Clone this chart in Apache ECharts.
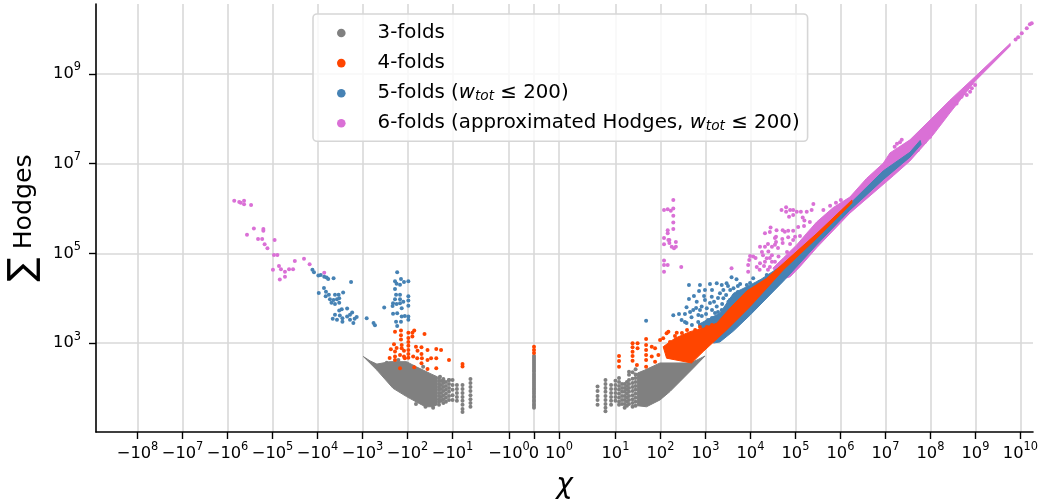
<!DOCTYPE html>
<html>
<head>
<meta charset="utf-8">
<style>html,body{margin:0;padding:0;background:#fff}#chart{width:1043px;height:501px}</style>
<script src="https://cdn.jsdelivr.net/npm/echarts@6/dist/echarts.min.js"></script>
</head>
<body>
<div id="chart"></div>
<script>
// all values are [chi, sum of Hodges]
// *Band arrays are the outlines of the regions where points overlap solid
const fold3Band1 = [[-960,500],[-680,400],[-480,340],[-245,385],[-105,385],[-66,300],[-45,250],[-30,205],[-22,178],[-22,42],[-27,38],[-40,38],[-53,44],[-105,64],[-210,98],[-480,250]];
const fold3Band2 = [[980,515],[650,420],[455,360],[98,360],[45,250],[31,215],[31,40],[49,38],[98,54],[163,83],[270,138],[535,275]];
const fold3Zero = [[0,515],[0,465],[0,420],[0,380],[0,340],[0,310],[0,277],[0,252],[0,228],[0,205],[0,185],[0,167],[0,150],[0,135],[0,123],[0,111],[0,100],[0,91],[0,82],[0,74],[0,66],[0,60],[0,54],[0,49],[0,44],[0,40],[0,36]];
const fold3Points = [
  [-4,158],[-4,129],[-4,105],[-4,85],[-4,69],[-4,56],[-4,46],[-4,38],
  [-6,116],[-6,95],[-6,77],[-6,63],[-6,52],[-6,42],[-6,34],[-6,29],
  [-8,116],[-8,95],[-8,77],[-8,63],[-8,52],
  [-10,150],[-10,116],[-10,91],[-10,69],[-10,54],
  [-12,150],[-12,123],[-12,100],[-12,82],[-12,66],[-12,54],
  [-14,135],[-14,111],[-14,91],[-14,74],[-14,60],[-14,49],
  [-16,158],[-16,129],[-16,105],[-16,85],[-16,69],[-16,56],[-16,46],
  [-18,142],[-18,116],[-18,95],[-18,77],[-18,63],[-18,52],
  [-20,167],[-20,142],[-20,123],[-20,105],[-20,91],[-20,77],[-20,66],[-20,56],[-20,49],[-20,42],
  [-27,36],[-40,38],[-65,44],[-290,365],[-160,420],[-75,295],[-45,295],[-30,178],[-19,178],[-16,150],[-12,150],
  [4,107],[4,85],[4,66],[4,54],[4,42],
  [6,150],[6,123],[6,100],[6,82],[6,66],[6,54],[6,44],[6,36],[6,30],
  [8,116],[8,95],[8,77],[8,63],[8,52],[8,42],
  [10,145],[10,116],[10,95],[10,77],[10,63],[10,52],
  [12,167],[12,135],[12,111],[12,91],[12,74],[12,60],[12,49],[12,42],
  [14,123],[14,100],[14,82],[14,66],[14,54],[14,44],
  [16,123],[16,100],[16,82],[16,66],[16,54],[16,44],[16,36],
  [18,135],[18,111],[18,91],[18,74],[18,60],[18,49],[18,40],
  [20,228],[20,196],[20,150],[20,123],[20,100],[20,82],[20,66],[20,54],[20,44],
  [24,225],[24,160],[24,129],[24,105],[24,85],[24,69],[24,56],[24,46],[24,38],
  [28,260],[28,200],[28,167],[28,135],[28,111],[28,91],[28,74],[28,60],[28,49],[28,40]
];

const fold4Band = [[490,360],[137,460],[115,830],[210,1280],[455,1800],[890,2140],[1780,2770],[3500,6000],[8300,14500],[23000,27800],[54000,60000],[300000,280000],[1800000,1550000],[1800000,1330000],[300000,220000],[54000,43000],[9800,6500],[2950,1960],[890,645]];
const fold4Points = [
  [-190,1800],[-140,1900],[-96,1700],[-78,1700],[-71,1900],[-42,1600],[-140,1500],[-140,1200],[-200,940],[-135,910],
  [-96,1300],[-96,1050],[-96,870],[-96,700],[-96,570],[-96,470],[-78,1400],[-235,730],[-190,650],[-120,670],[-65,830],[-49,810],
  [-60,670],[-36,700],[-23,740],[-18,700],[-49,570],[-190,500],[-147,540],[-115,460],[-75,500],[-61,460],[-30,460],[-36,420],
  [-23,460],[-12,420],[-6,340],[-6,300],[-49,355],[-71,290],[-147,275],[-36,265],[-23,275],[-48,460],[-250,465],[-175,775],[-135,770],[-190,420],[-120,500],
  [0,830],[0,700],[0,600],
  [12,515],[12,400],[12,296],[24,990],[24,805],[24,643],[24,515],[24,405],[31,990],[31,765],[30,325],
  [48,1240],[48,905],[48,700],[48,540],[48,420],[48,296],[64,830],[64,500],[76,765],[76,385],[98,1170],[115,1280],[137,1660],[150,1800],[230,1700],[90,540],
  [210,1440],[300,1680],[390,1960],[590,1960],[755,2290],[1080,2290],[1400,2530],[163,1060],[148,700]
];

const fold5Band = [[700,2600],[1070,3270],[2100,4680],[4200,12900],[8300,18100],[16300,25600],[45000,50000],[65000,60000],[180000,160000],[420000,350000],[1600000,1260000],[8900000,6900000],[35000000,18000000],[59000000,33000000],[62000000,27000000],[35000000,14000000],[8900000,4400000],[1600000,910000],[295000,155000],[54000,24000],[9800,4200],[4200,1860],[2100,1060],[1500,1000]];
const fold5Points = [
  [-13000,43000],[-12000,38000],[-9600,32000],[-8500,33000],[-7100,30000],[-6300,29000],[-5800,27000],[-4400,28000],[-1800,23000],
  [-7200,17000],[-6500,14000],[-9400,13000],[-5600,12000],[-6600,11000],[-2700,13500],[-4100,12000],[-3400,12000],[-5300,9500],[-4400,9100],[-3700,9500],[-3300,10000],[-4900,7900],[-4100,7400],[-3300,7900],
  [-2200,5900],[-2900,5700],[-3300,5300],[-4100,4300],[-3200,4100],[-1700,4800],[-1900,4300],[-4600,3500],[-3700,3300],[-2800,3600],[-2800,3000],[-2200,3900],[-1900,3300],[-1600,2800],[-1500,3500],[-1350,3800],[-810,3600],[-570,2800],[-530,2500],
  [-170,38000],[-190,24000],[-175,21000],[-140,27000],[-120,23000],[-96,24000],[-147,20000],[-190,16000],[-180,12000],[-147,12000],[-96,11000],[-190,9500],[-147,9500],[-124,8400],[-96,8900],[-210,7700],[-175,7400],[-147,7700],[-96,6800],[-215,6700],[-135,6000],[-330,6200],[-210,4500],[-170,4600],[-135,3900],[-115,4000],[-96,3900],[-96,3300],[-180,3000],[-140,3000],[-170,2400],
  [48,3160],[193,4180],[258,4450],[295,3270],[380,6300],[430,19700],[430,9600],[755,19700],[720,14500],[975,15200],[1260,20800],[1780,21500],[2300,19700],[2950,21500],[3800,29300],[4900,26500],[8300,19700],[2500,15200],[3550,15200],[1380,10800],[975,9150],[640,8400],[825,6500],[535,5470],[1070,5970],[1780,6500],[2500,10000],[1630,4680],[695,4240],[490,3760],[350,4450],[2100,12900],[4200,16700],[1260,7800],[755,5470],[3240,8400],[2300,5470],[1260,2530],[755,2530],[380,2800],[11500,27800],[15800,23400],[23000,33000],
  [350,2950],[455,4900],[500,2530],[620,6050],[690,2950],[830,4000],[930,2530],[1030,4450],[1140,3270],[1400,5470],[1400,3630],[1550,8300],[1720,2950],[1900,10100],[1900,4900],[2350,7450],[2570,4000],[2880,11800],[2880,6050],[3500,9100],[3900,4900],[4570,8300],[5250,13800],[5900,20800],[6500,11200],[7600,15200],[9800,21900],[930,11200],[555,11200],[1400,15200],[3170,18700],[5250,18700]
];

const fold6Band = [[31600,47000],[53700,79000],[107000,155000],[178000,282000],[295000,500000],[690000,1050000],[1620000,1800000],[3800000,4700000],[8900000,10200000],[12600000,17400000],[35000000,34000000],[98000000,94000000],[270000000,260000000],[980000000,870000000],[5900000000,4800000000],[5900000000,4200000000],[980000000,690000000],[270000000,135000000],[115000000,44000000],[35000000,11500000],[15000000,5400000],[1620000,790000],[295000,133000],[125000,50000],[76000,30000],[45000,25700]];
const fold6Points = [
  [-710000,1500000],[-550000,1400000],[-510000,1350000],[-430000,1500000],[-430000,1250000],[-300000,1200000],[-260000,360000],[-160000,350000],[-160000,320000],[-370000,260000],[-210000,210000],[-170000,210000],[-90000,200000],[-150000,160000],[-130000,130000],[-93000,92000],[-78000,92000],[-32000,68000],[-20000,76000],[-15000,57000],[-72000,52000],[-98000,43000],[-65000,44000],[-53000,39000],[-43000,44000],[-35000,44000],[-53000,30000],[-69000,26000],[-7100,37000],
  [193,1550000],[120,930000],[145,960000],[170,890000],[193,1000000],[193,690000],[193,490000],[145,330000],[193,350000],[145,280000],[120,220000],[150,200000],[158,200000],[220,180000],[120,160000],[158,170000],[178,140000],[220,140000],[200,130000],[120,69000],[120,55000],[145,55000],[290,50000],[120,39000],
  [3800,46500],[8900,55000],[8900,39000],[9400,71000],[11500,85000],[9800,87000],[16300,141000],[21000,141000],[21000,280000],[28000,380000],[27000,300000],[38000,330000],[52000,330000],[69000,320000],[89000,320000],[37000,235000],[37000,180000],[51000,210000],[69000,230000],[89000,200000],[19000,91000],[23000,78000],[30000,141000],[35000,155000],[21000,65000],[16300,60000],[13800,50000],[27000,50000],[35000,65000],[30000,91000],[25000,110000],[42000,85000],
  [18000,107000],[24500,162000],[30000,65000],[41000,132000],[52000,170000],[65000,107000],[76000,162000],[98000,234000],[126000,245000],[27000,79000],[46000,58000],[20000,52000],[13000,79000],[35000,219000],[58000,302000],[115000,389000],[155000,407000],[209000,501000],[16000,43000],[24500,43000],
  [49000,930000],[62000,1070000],[62000,850000],[76000,930000],[89000,930000],[107000,850000],[132000,850000],[178000,850000],[229000,930000],[250000,1260000],[72000,660000],[89000,720000],[145000,630000],[158000,540000],[417000,930000],[589000,1150000],[794000,1350000],[1020000,1550000],
  [23000000,34000000],[18000000,28000000],[16000000,24000000],[21000000,30000000],[98000000,40000000],[76000000,31000000],[52000000,20000000],[760000000,400000000],[980000000,570000000],[640000000,340000000],[490000000,310000000],[380000000,220000000],[830000000,480000000],
  [7800000000,5900000000],[8900000000,6600000000],[10700000000,8100000000],[13800000000,10500000000],[16200000000,12900000000],[17800000000,13500000000]
];

const xTicks = [-1e8,-1e7,-1e6,-1e5,-1e4,-1e3,-1e2,-1e1,-1,0,1,1e1,1e2,1e3,1e4,1e5,1e6,1e7,1e8,1e9,1e10];
const xTickLabels = ['{b|−10}{s|8}','{b|−10}{s|7}','{b|−10}{s|6}','{b|−10}{s|5}','{b|−10}{s|4}','{b|−10}{s|3}','{b|−10}{s|2}','{b|−10}{s|1}','{b|−10}{s|0}','{b|0}','{b|10}{s|0}','{b|10}{s|1}','{b|10}{s|2}','{b|10}{s|3}','{b|10}{s|4}','{b|10}{s|5}','{b|10}{s|6}','{b|10}{s|7}','{b|10}{s|8}','{b|10}{s|9}','{b|10}{s|10}'];
const yTicks = [1e3,1e5,1e7,1e9];
const yTickLabels = ['{b|10}{s|3}','{b|10}{s|5}','{b|10}{s|7}','{b|10}{s|9}'];

const seriesNames = ['3-folds','4-folds','5-folds (wtot ≤ 200)','6-folds (approximated Hodges, wtot ≤ 200)'];
const legendLabels = [
  '{t|3-folds}{sub| }',
  '{t|4-folds}{sub| }',
  '{t|5-folds (}{i|w}{sub|tot}{t| ≤ 200)}',
  '{t|6-folds (approximated Hodges, }{i|w}{sub|tot}{t| ≤ 200)}'
];

const GREY = '#808080', ORANGE = '#ff4500', BLUE = '#4682b4', PINK = '#da70d6';
const FONT = '"DejaVu Sans"';

// symlog with linthresh 2, same as matplotlib's default linscale
const LINSCALE = 1 / 0.9;
const symlog = (x) => {
  const a = Math.abs(x);
  if (a <= 2) return x * LINSCALE / 2;
  return Math.sign(x) * (LINSCALE + Math.log10(a / 2));
};

const toScatter = (name, color, z, points) => ({
  type: 'scatter', name, z, symbolSize: 4, silent: true,
  itemStyle: { color, opacity: 1 },
  data: points.map((p) => [symlog(p[0]), p[1]])
});

const toBand = (name, color, z, band) => ({
  type: 'custom', name, z, silent: true, clip: true,
  itemStyle: { color },
  encode: { x: 0, y: 1 },
  data: [[symlog(band[0][0]), band[0][1]]],
  renderItem: (params, api) => ({
    type: 'polygon',
    shape: { points: band.map((p) => api.coord([symlog(p[0]), p[1]])) },
    style: { fill: color, stroke: color, lineWidth: 1, lineJoin: 'round' }
  })
});

const tick_rich = {
  b: { fontFamily: FONT, fontSize: 16.3, color: '#000', lineHeight: 24 },
  s: { fontFamily: FONT, fontSize: 11.4, color: '#000', lineHeight: 14, verticalAlign: 'top' }
};
const axis_line = { onZero: false, lineStyle: { color: '#000', width: 1.6 } };
const axis_tick = { length: 7, lineStyle: { color: '#000', width: 1.4 } };
const split_line = { show: true, lineStyle: { color: '#d9d9d9', width: 1.6 } };

const chart = echarts.init(document.getElementById('chart'), null, { renderer: 'canvas' });
chart.setOption({
  animation: false,
  backgroundColor: '#fff',
  grid: { left: 96, top: 4, width: 937, height: 428, outerBoundsMode: 'none' },
  legend: {
    left: 313, top: 14, z: 10, orient: 'vertical', selectedMode: false,
    padding: [9, 8, 7.5, 24], itemGap: 9.6, itemWidth: 8.6, itemHeight: 8.6,
    backgroundColor: 'rgba(255,255,255,0.8)', borderColor: '#d6d6d6', borderWidth: 1.6, borderRadius: 4,
    data: seriesNames.map((name) => ({ name, icon: 'circle' })),
    formatter: (name) => legendLabels[seriesNames.indexOf(name)],
    textStyle: {
      padding: [0, 0, 0, 27],
      rich: {
        t: { fontFamily: FONT, fontSize: 19.8, color: '#000', lineHeight: 21 },
        i: { fontFamily: FONT, fontSize: 19.8, fontStyle: 'italic', color: '#000', lineHeight: 21 },
        sub: { fontFamily: FONT, fontSize: 13.7, fontStyle: 'italic', color: '#000', lineHeight: 14, verticalAlign: 'bottom' }
      }
    }
  },
  xAxis: {
    type: 'value', min: -438 / 45, max: 499 / 45,
    name: 'χ', nameLocation: 'middle', nameGap: 40,
    nameTextStyle: { fontFamily: FONT, fontSize: 28, fontStyle: 'italic', color: '#000' },
    axisLine: axis_line,
    axisTick: Object.assign({ customValues: xTicks.map(symlog) }, axis_tick),
    splitLine: split_line,
    axisLabel: {
      customValues: xTicks.map(symlog), margin: 10, rich: tick_rich,
      formatter: (v) => {
        const i = xTicks.findIndex((t) => Math.abs(symlog(t) - v) < 1e-6);
        return i < 0 ? '' : xTickLabels[i];
      }
    }
  },
  yAxis: {
    type: 'log', logBase: 10, min: 10.4, max: 3.64e10,
    name: '{s|∑}{h| Hodges}', nameLocation: 'middle', nameGap: 44,
    nameTextStyle: {
      rich: {
        s: { fontFamily: FONT, fontSize: 36, color: '#000' },
        h: { fontFamily: FONT, fontSize: 25.2, color: '#000' }
      }
    },
    axisLine: axis_line,
    axisTick: Object.assign({ customValues: yTicks }, axis_tick),
    splitLine: split_line,
    axisLabel: {
      customValues: yTicks, margin: 15, rich: tick_rich,
      formatter: (v) => {
        const i = yTicks.findIndex((t) => Math.abs(Math.log10(t) - Math.log10(v)) < 1e-6);
        return i < 0 ? '' : yTickLabels[i];
      }
    }
  },
  series: [
    toBand(seriesNames[0], GREY, 1, fold3Band1),
    toBand(seriesNames[0], GREY, 1, fold3Band2),
    toScatter(seriesNames[0], GREY, 1, fold3Zero.concat(fold3Points)),
    toBand(seriesNames[3], PINK, 2, fold6Band),
    toScatter(seriesNames[3], PINK, 2, fold6Points),
    toBand(seriesNames[2], BLUE, 3, fold5Band),
    toScatter(seriesNames[2], BLUE, 3, fold5Points),
    toBand(seriesNames[1], ORANGE, 4, fold4Band),
    toScatter(seriesNames[1], ORANGE, 4, fold4Points)
  ]
});
</script>
</body>
</html>
